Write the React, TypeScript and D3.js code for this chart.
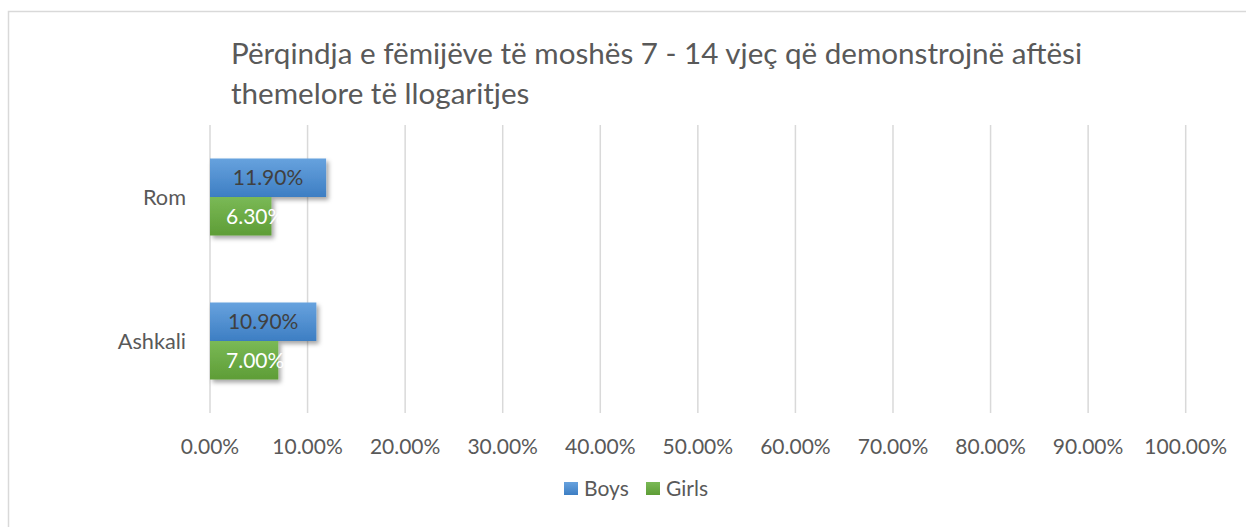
import React, { useEffect, useRef } from "react";
import * as d3 from "d3";

const categories = ["Rom", "Ashkali"];
const seriesNames = ["Boys", "Girls"];
const boysValues = [11.9, 10.9];
const girlsValues = [6.3, 7.0];
const xTicks = [0, 10, 20, 30, 40, 50, 60, 70, 80, 90, 100];
const titleLines = [
  "Përqindja e fëmijëve të moshës 7 - 14 vjeç që demonstrojnë aftësi",
  "themelore të llogaritjes",
];

const W = 1246;
const H = 527;
const FONT = "Lato, 'Open Sans', sans-serif";

function App() {
  const ref = useRef<SVGSVGElement>(null);

  useEffect(() => {
    const svg = d3.select(ref.current);
    svg.selectAll("*").remove();

    // gradients and shadow
    const defs = svg.append("defs");
    const grads = [
      { id: "gBoys", top: "#67A2DE", bottom: "#3D7EC3" },
      { id: "gGirls", top: "#7AB956", bottom: "#5E9D36" },
    ];
    grads.forEach((g) => {
      const lg = defs.append("linearGradient").attr("id", g.id).attr("x1", 0).attr("y1", 0).attr("x2", 0).attr("y2", 1);
      lg.append("stop").attr("offset", "0%").attr("stop-color", g.top);
      lg.append("stop").attr("offset", "100%").attr("stop-color", g.bottom);
    });
    const f = defs.append("filter").attr("id", "shadow").attr("x", "-20%").attr("y", "-20%").attr("width", "150%").attr("height", "160%");
    f.append("feDropShadow").attr("dx", 2.5).attr("dy", 3).attr("stdDeviation", 2).attr("flood-color", "#000").attr("flood-opacity", 0.35);

    // chart border
    svg.append("rect")
      .attr("x", 8.5).attr("y", 11.5)
      .attr("width", W).attr("height", H)
      .attr("fill", "#fff").attr("stroke", "#D9D9D9").attr("stroke-width", 1.5);

    // title
    svg.append("g").selectAll("text").data(titleLines).join("text")
      .attr("x", 231)
      .attr("y", (d, i) => 64 + i * 40)
      .attr("font-family", FONT)
      .attr("font-size", 29.6)
      .attr("fill", "#595959")
      .text((d) => d);

    const x = d3.scaleLinear().domain([0, 100]).range([210, 1185.7]);
    const y = d3.scaleBand().domain(categories).range([125, 413]);
    const y1 = d3.scaleBand().domain(seriesNames).range([0, y.bandwidth()]).paddingOuter(0.87);

    // gridlines
    svg.append("g").selectAll("line").data(xTicks).join("line")
      .attr("x1", (d) => x(d)).attr("x2", (d) => x(d))
      .attr("y1", 125).attr("y2", 413)
      .attr("stroke", "#D9D9D9").attr("stroke-width", 1.5);

    // x tick labels
    svg.append("g").selectAll("text").data(xTicks).join("text")
      .attr("x", (d) => x(d))
      .attr("y", 454)
      .attr("text-anchor", "middle")
      .attr("font-family", FONT)
      .attr("font-size", 21)
      .attr("fill", "#595959")
      .text((d) => d3.format(".2f")(d) + "%");

    // category labels
    svg.append("g").selectAll("text").data(categories).join("text")
      .attr("x", 186)
      .attr("y", (d) => y(d)! + y.bandwidth() / 2)
      .attr("dy", "0.35em")
      .attr("text-anchor", "end")
      .attr("font-family", FONT)
      .attr("font-size", 21.7)
      .attr("fill", "#595959")
      .text((d) => d);

    const rows = categories.flatMap((c, i) => [
      { cat: c, s: "Boys", v: boysValues[i] },
      { cat: c, s: "Girls", v: girlsValues[i] },
    ]);

    // bars
    svg.append("g").selectAll("rect").data(rows).join("rect")
      .attr("x", x(0))
      .attr("y", (d) => y(d.cat)! + y1(d.s)!)
      .attr("width", (d) => x(d.v) - x(0))
      .attr("height", y1.bandwidth())
      .attr("fill", (d) => (d.s === "Boys" ? "url(#gBoys)" : "url(#gGirls)"))
      .attr("filter", "url(#shadow)");

    // value labels
    svg.append("g").selectAll("text").data(rows).join("text")
      .attr("x", (d) => (d.s === "Boys" ? (x(0) + x(d.v)) / 2 : x(0) + 16))
      .attr("y", (d) => y(d.cat)! + y1(d.s)! + y1.bandwidth() / 2)
      .attr("dy", "0.35em")
      .attr("text-anchor", (d) => (d.s === "Boys" ? "middle" : "start"))
      .attr("font-family", FONT)
      .attr("font-size", 21)
      .attr("fill", (d) => (d.s === "Boys" ? "#404040" : "#ffffff"))
      .text((d) => d3.format(".2f")(d.v) + "%");

    // legend
    const legend = [
      { name: "Boys", x: 564, fill: "url(#gBoys)" },
      { name: "Girls", x: 646, fill: "url(#gGirls)" },
    ];
    const lg = svg.append("g").selectAll("g").data(legend).join("g")
      .attr("transform", (d) => `translate(${d.x},482)`);
    lg.append("rect").attr("width", 14).attr("height", 13).attr("fill", (d) => d.fill);
    lg.append("text")
      .attr("x", 20).attr("y", 7).attr("dy", "0.35em")
      .attr("font-family", FONT)
      .attr("font-size", 21)
      .attr("fill", "#595959")
      .text((d) => d.name);
  }, []);

  return <svg ref={ref} width={W} height={H} style={{ position: "absolute", left: 0, top: 0 }} />;
}

export default App;
